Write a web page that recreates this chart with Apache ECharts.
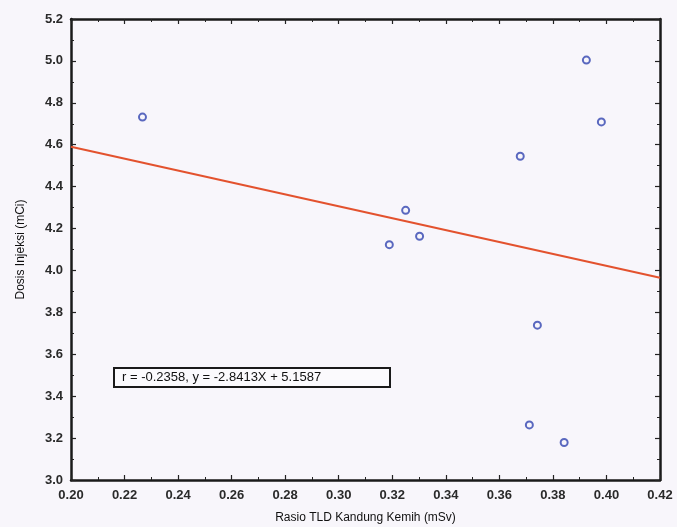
<!DOCTYPE html>
<html>
<head>
<meta charset="utf-8">
<script src="https://cdn.jsdelivr.net/npm/echarts@6/dist/echarts.min.js"></script>
<style>
html,body{margin:0;padding:0;background:#f8f6fb;}
#c{width:677px;height:527px;}
</style>
</head>
<body>
<div id="c"></div>
<script>
// Data
var rasioTLD = [0.2267, 0.3925, 0.3981, 0.3678, 0.3250, 0.3302, 0.3189, 0.3742, 0.3712, 0.3842];
var dosisInjeksi = [4.732, 5.004, 4.709, 4.545, 4.287, 4.163, 4.123, 3.739, 3.263, 3.179];
var fitX = [0.20, 0.42];
var fitY = [4.5904, 3.9654];
var xTicks = {min: 0.20, max: 0.42, interval: 0.02};
var yTicks = {min: 3.0, max: 5.2, interval: 0.2};
var annotation = 'r = -0.2358, y = -2.8413X + 5.1587';

var points = rasioTLD.map(function (x, i) { return [x, dosisInjeksi[i]]; });
var fitLine = fitX.map(function (x, i) { return [x, fitY[i]]; });

var chart = echarts.init(document.getElementById('c'));
var font = 'Liberation Sans, Arial, sans-serif';
var axisLine = {show: true, lineStyle: {color: '#1a1a1a', width: 2.5}};
var tick = {show: true, inside: true, length: 5, lineStyle: {color: '#222', width: 1.2}};
var minor = {show: true, splitNumber: 2, length: 3, lineStyle: {color: '#222', width: 1}};

chart.setOption({
  backgroundColor: '#f8f6fb',
  animation: false,
  grid: {left: 71, right: 17, top: 19, bottom: 47, containLabel: false, outerBoundsMode: 'none'},
  xAxis: [{
    type: 'value', min: xTicks.min, max: xTicks.max, interval: xTicks.interval,
    position: 'bottom',
    name: 'Rasio TLD Kandung Kemih (mSv)', nameLocation: 'middle', nameGap: 32,
    nameTextStyle: {fontFamily: font, fontSize: 12, color: '#111'},
    axisLine: axisLine, axisTick: tick, minorTick: minor,
    splitLine: {show: false},
    axisLabel: {fontFamily: font, fontSize: 13, fontWeight: 'bold', color: '#2a2a2a', margin: 9,
      formatter: function (v) { return v.toFixed(2); }}
  }, {
    type: 'value', min: xTicks.min, max: xTicks.max, interval: xTicks.interval,
    position: 'top',
    axisLine: axisLine, axisTick: tick, minorTick: minor,
    splitLine: {show: false}, axisLabel: {show: false}
  }],
  yAxis: [{
    type: 'value', min: yTicks.min, max: yTicks.max, interval: yTicks.interval,
    position: 'left',
    name: 'Dosis Injeksi (mCi)', nameLocation: 'middle', nameGap: 44,
    nameTextStyle: {fontFamily: font, fontSize: 12, color: '#111'},
    axisLine: axisLine, axisTick: tick, minorTick: minor,
    splitLine: {show: false},
    axisLabel: {fontFamily: font, fontSize: 13, fontWeight: 'bold', color: '#2a2a2a', margin: 8,
      formatter: function (v) { return v.toFixed(1); }}
  }, {
    type: 'value', min: yTicks.min, max: yTicks.max, interval: yTicks.interval,
    position: 'right',
    axisLine: axisLine, axisTick: tick, minorTick: minor,
    splitLine: {show: false}, axisLabel: {show: false}
  }],
  series: [{
    type: 'line', data: fitLine, symbol: 'none',
    lineStyle: {color: '#e3522e', width: 2}, z: 2
  }, {
    type: 'scatter', data: points, symbol: 'circle', symbolSize: 7,
    itemStyle: {color: 'rgba(0,0,0,0)', borderColor: '#3245b0', borderWidth: 2}, z: 3
  }],
  graphic: [{
    type: 'rect', left: 113, top: 367, z: 10,
    shape: {width: 276, height: 19},
    style: {fill: '#fbfafd', stroke: '#1a1a1a', lineWidth: 2}
  }, {
    type: 'text', x: 122, y: 377, z: 11,
    style: {text: annotation, font: '13px ' + font, fill: '#111', verticalAlign: 'middle'}
  }]
});
</script>
</body>
</html>
